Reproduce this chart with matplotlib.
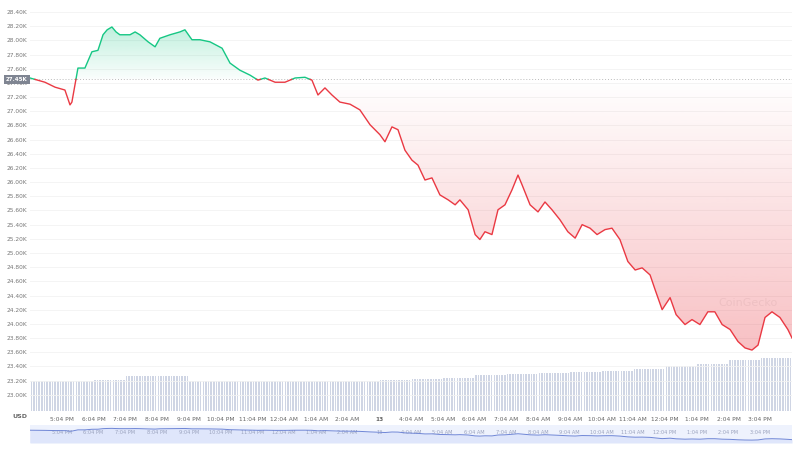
import numpy as np
import matplotlib
matplotlib.use("Agg")
import matplotlib.pyplot as plt
from matplotlib.patches import Polygon

hours = [0,.47,.79,1.10,1.26,1.32,1.51,1.73,1.95,2.14,2.30,2.43,2.58,2.71,2.83,3.15,3.31,3.46,3.72,3.94,
         4.09,4.41,4.72,4.88,5.10,5.35,5.67,6.05,6.30,6.61,6.93,7.18,7.40,7.72,8.03,8.35,8.66,8.88,9.07,9.29,
         9.51,9.76,10.08,10.39,10.71,11.02,11.18,11.40,11.59,11.81,12.03,12.22,12.44,12.66,12.91,13.17,13.39,13.54,13.80,14.02,
         14.17,14.33,14.55,14.74,14.96,15.18,15.37,15.50,15.75,16.00,16.22,16.44,16.69,16.94,17.17,17.39,17.64,17.86,18.11,18.33,
         18.58,18.83,19.06,19.28,19.53,19.69,19.91,20.16,20.35,20.63,20.85,21.10,21.35,21.57,21.80,22.05,22.30,22.52,22.74,22.93,
         23.15,23.37,23.62,23.87,24.0]
price = [27.47,27.41,27.34,27.30,27.09,27.13,27.61,27.61,27.84,27.86,28.08,28.15,28.19,28.12,28.08,28.08,28.12,28.08,27.98,27.91,
         28.03,28.08,28.12,28.15,28.01,28.01,27.98,27.89,27.68,27.58,27.51,27.44,27.47,27.41,27.41,27.47,27.48,27.44,27.23,27.33,
         27.23,27.13,27.10,27.02,26.81,26.67,26.57,26.78,26.74,26.45,26.31,26.24,26.03,26.06,25.82,25.75,25.68,25.75,25.61,25.26,
         25.19,25.30,25.26,25.61,25.68,25.89,26.10,25.96,25.68,25.58,25.72,25.61,25.47,25.30,25.21,25.40,25.35,25.26,25.33,25.35,
         25.19,24.88,24.76,24.79,24.69,24.48,24.20,24.37,24.13,23.99,24.06,23.99,24.17,24.17,23.99,23.92,23.75,23.66,23.63,23.70,
         24.09,24.17,24.09,23.92,23.80]
baseline = 27.45
# hourly volume (relative), 24 hours
volume = [30,30,31,34,34,30,30,30,30,30,30,31,32,33,35,36,37,38,39,41,44,46,50,52]
tick_labels = ["5:04 PM","6:04 PM","7:04 PM","8:04 PM","9:04 PM","10:04 PM","11:04 PM","12:04 AM",
               "1:04 AM","2:04 AM","13","4:04 AM","5:04 AM","6:04 AM","7:04 AM","8:04 AM","9:04 AM",
               "10:04 AM","11:04 AM","12:04 PM","1:04 PM","2:04 PM","3:04 PM"]
yticks = [23.0 + 0.2*i for i in range(28)]

GREEN = "#16c784"; RED = "#ea3943"
W, H = 800, 450
fig = plt.figure(figsize=(8, 4.5), dpi=100)
ax = fig.add_axes([30/W, 1-411/H, 762/W, 406/H])
t = np.array(hours); p = np.array(price)

# volume bars
axv = ax.twinx()
nb = 12
vt = np.arange(24*nb)/nb + 0.5/nb
vv = np.repeat(volume, nb)
axv.bar(vt, vv, width=0.6/nb, color="#cfd5e4", lw=0, zorder=1)
axv.set_ylim(0, 400); axv.set_xlim(0, 24)
axv.set_yticks([]); axv.set_zorder(0)
for s in axv.spines.values(): s.set_visible(False)
ax.set_zorder(1); ax.patch.set_visible(False)

for y in yticks:
    ax.axhline(y, color="#f2f2f2", lw=0.6, zorder=0)
ax.axhline(baseline, color="#bbbbbb", lw=0.7, ls=(0, (1, 2)), zorder=2)

tt, pp = [t[0]], [p[0]]
for i in range(1, len(t)):
    a, b = p[i-1]-baseline, p[i]-baseline
    if a*b < 0:
        f = a/(a-b); tt.append(t[i-1]+f*(t[i]-t[i-1])); pp.append(baseline)
    tt.append(t[i]); pp.append(p[i])
tt = np.array(tt); pp = np.array(pp)

def grad_fill(mask_above, color, top, bot, a_top, a_bot):
    yv = np.where(mask_above, np.maximum(pp, baseline), np.minimum(pp, baseline))
    verts = list(zip(tt, yv)) + [(tt[-1], baseline), (tt[0], baseline)]
    poly = Polygon(verts, closed=True, fc="none", ec="none")
    ax.add_patch(poly)
    rgb = matplotlib.colors.to_rgb(color)
    n = 256
    img = np.zeros((n, 1, 4)); img[..., :3] = rgb
    img[:, 0, 3] = np.linspace(a_top, a_bot, n)
    im = ax.imshow(img, extent=[0, 24, bot, top], aspect="auto", origin="upper", zorder=1.5)
    im.set_clip_path(poly)
grad_fill(True, GREEN, 28.2, baseline, 0.28, 0.02)
grad_fill(False, RED, baseline, 23.6, 0.0, 0.32)
ax.set_xlim(0, 24); ax.set_ylim(22.77, 28.50)

ax.plot(tt, np.ma.masked_where(pp < baseline, pp), color=GREEN, lw=1, zorder=3)
ax.plot(tt, np.ma.masked_where(pp > baseline, pp), color=RED, lw=1, zorder=3)

ax.set_yticks(yticks)
ax.set_yticklabels([f"{y:.2f}K" for y in yticks], fontsize=4.2, color="#777777")
ax.tick_params(axis="y", length=0, pad=2)
ax.set_xticks(range(1, 24))
ax.set_xticklabels(tick_labels, fontsize=4.2, color="#666666")
for lbl in ax.get_xticklabels():
    if lbl.get_text() == "13": lbl.set_fontweight("bold")
ax.tick_params(axis="x", length=0, pad=4)
for s in ax.spines.values(): s.set_visible(False)
ax.text(-0.003, baseline, "27.45K", transform=ax.get_yaxis_transform(), ha="right", va="center",
        fontsize=4.0, color="white", fontweight="bold",
        bbox=dict(boxstyle="square,pad=0.35", fc="#7f8592", ec="none"), zorder=5)
fig.text(12/W, 1-417/H, "USD", fontsize=4.5, color="#666666", fontweight="bold", va="center")
ax.text(22.6, 24.30, "CoinGecko", fontsize=8, color="#f0f0f0", ha="center", va="center", zorder=0.5)

axn = fig.add_axes([30/W, 1-443/H, 762/W, 18/H])
axn.set_xlim(0, 24); axn.set_ylim(22.5, 29.5)
axn.fill_between(t, p, 22.5, color="#dfe6fb", lw=0)
axn.plot(t, p, color="#6f86d6", lw=0.7)
axn.set_facecolor("#eef2fd")
axn.set_xticks(range(1, 24))
axn.set_xticklabels(tick_labels, fontsize=3.6, color="#9aa2bd")
axn.tick_params(axis="x", direction="in", pad=-9, length=0)
axn.set_yticks([])
for s in axn.spines.values(): s.set_visible(False)

fig.savefig("out.png", dpi=100)
